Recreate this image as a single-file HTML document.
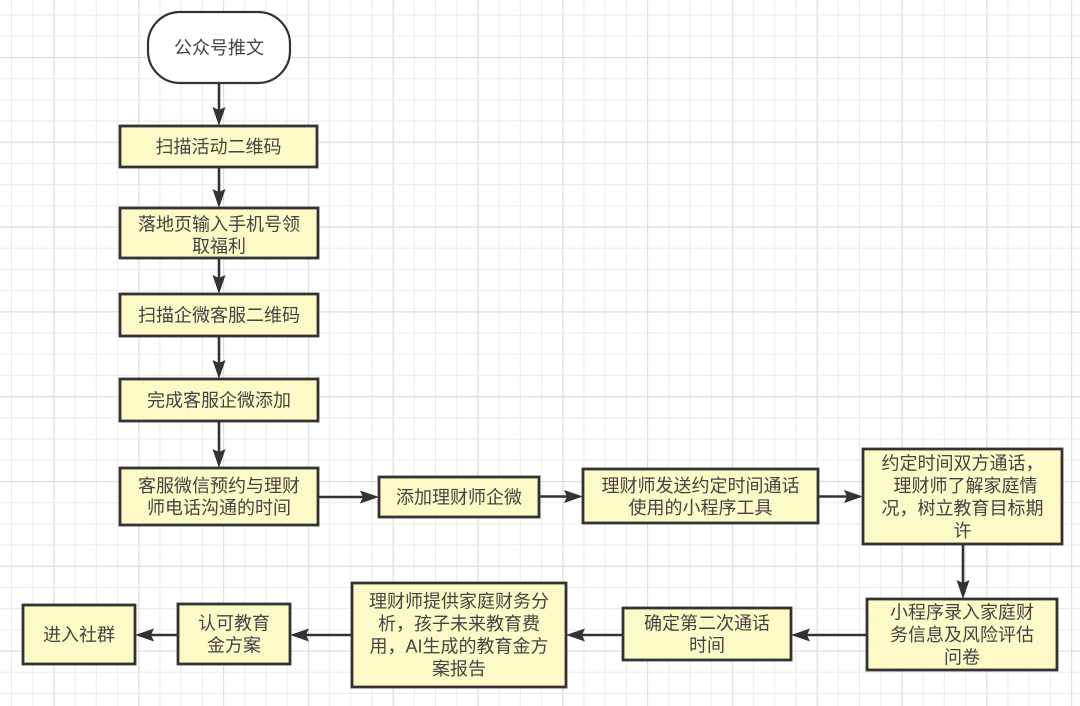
<!DOCTYPE html>
<html>
<head>
<meta charset="utf-8">
<style>
html,body{margin:0;padding:0;background:#fff;}
svg{display:block;}
text{font-family:"Liberation Sans","Noto Sans CJK SC",sans-serif;font-size:18px;fill:#444;text-anchor:middle;}
</style>
</head>
<body>
<svg width="1080" height="706" viewBox="0 0 1080 706" xmlns="http://www.w3.org/2000/svg">
<defs>
<pattern id="g" x="11" y="14.5" width="84.8" height="84.8" patternUnits="userSpaceOnUse">
<rect x="0" y="0" width="1" height="84.8" fill="#ebebeb"/>
<rect x="21.2" y="0" width="1" height="84.8" fill="#ebebeb"/>
<rect x="42.4" y="0" width="1.2" height="84.8" fill="#dddddd"/>
<rect x="63.6" y="0" width="1" height="84.8" fill="#ebebeb"/>
<rect x="0" y="0" width="84.8" height="1" fill="#ebebeb"/>
<rect x="0" y="21.2" width="84.8" height="1" fill="#ebebeb"/>
<rect x="0" y="42.4" width="84.8" height="1.2" fill="#dddddd"/>
<rect x="0" y="63.6" width="84.8" height="1" fill="#ebebeb"/>
</pattern>
</defs>
<rect x="0" y="0" width="1080" height="706" fill="#fff"/>
<rect x="0" y="0" width="1080" height="706" fill="url(#g)"/>

<g stroke="#333" stroke-width="2.6">
<line x1="219" y1="83" x2="219" y2="110"/>
<line x1="219" y1="167" x2="219" y2="192"/>
<line x1="219" y1="258" x2="219" y2="278"/>
<line x1="219" y1="336" x2="219" y2="363"/>
<line x1="219" y1="421" x2="219" y2="452"/>
<line x1="963" y1="544" x2="963" y2="583"/>
<line x1="318" y1="497" x2="363" y2="497"/>
<line x1="539" y1="496.5" x2="567" y2="496.5"/>
<line x1="818" y1="496.5" x2="847" y2="496.5"/>
<line x1="867" y1="635" x2="807" y2="635"/>
<line x1="623" y1="635" x2="582" y2="635"/>
<line x1="352" y1="635" x2="306" y2="635"/>
<line x1="178" y1="635" x2="151" y2="635"/>
</g>

<g fill="#333">
<path d="M219 126 L212.5 107 L219 110 L225.5 107 Z"/>
<path d="M219 208 L212.5 189 L219 192 L225.5 189 Z"/>
<path d="M219 294 L212.5 275 L219 278 L225.5 275 Z"/>
<path d="M219 379 L212.5 360 L219 363 L225.5 360 Z"/>
<path d="M219 468 L212.5 449 L219 452 L225.5 449 Z"/>
<path d="M963 599 L956.5 580 L963 583 L969.5 580 Z"/>
<path d="M379 497 L360 490.5 L363 497 L360 503.5 Z"/>
<path d="M583 496.5 L564 490 L567 496.5 L564 503 Z"/>
<path d="M863 496.5 L844 490 L847 496.5 L844 503 Z"/>
<path d="M791 635 L810 628.5 L807 635 L810 641.5 Z"/>
<path d="M566 635 L585 628.5 L582 635 L585 641.5 Z"/>
<path d="M290 635 L309 628.5 L306 635 L309 641.5 Z"/>
<path d="M135 635 L154 628.5 L151 635 L154 641.5 Z"/>
</g>

<g stroke="#333" stroke-width="2.8">
<rect x="148" y="12" width="142" height="71" rx="32" ry="32" fill="#fff" stroke-width="2.2"/>
<g fill="#fcfac6">
<rect x="120" y="126" width="197" height="41"/>
<rect x="120" y="208" width="198" height="50"/>
<rect x="120" y="294" width="198" height="42"/>
<rect x="120" y="379" width="198" height="42"/>
<rect x="120" y="468" width="198" height="57"/>
<rect x="379" y="477" width="160" height="40"/>
<rect x="583" y="469" width="235" height="54"/>
<rect x="863" y="449" width="199" height="95"/>
<rect x="867" y="599" width="190" height="71"/>
<rect x="623" y="608" width="168" height="52"/>
<rect x="352" y="583" width="214" height="104"/>
<rect x="178" y="604" width="112" height="60"/>
<rect x="23" y="605" width="112" height="59"/>
</g>
</g>

<text x="219" y="54">公众号推文</text>
<text x="218.5" y="153">扫描活动二维码</text>
<text x="219" y="230.5">落地页输入手机号领</text>
<text x="219" y="252.5">取福利</text>
<text x="219" y="321.5">扫描企微客服二维码</text>
<text x="219" y="406.5">完成客服企微添加</text>
<text x="219" y="492">客服微信预约与理财</text>
<text x="219" y="514">师电话沟通的时间</text>
<text x="459" y="503.5">添加理财师企微</text>
<text x="700.5" y="492">理财师发送约定时间通话</text>
<text x="700.5" y="514">使用的小程序工具</text>
<text x="962.5" y="469.5">约定时间双方通话，</text>
<text x="965.5" y="492">理财师了解家庭情</text>
<text x="962.5" y="514.5">况，树立教育目标期</text>
<text x="962.5" y="537">许</text>
<text x="962" y="618.5">小程序录入家庭财</text>
<text x="962" y="641">务信息及风险评估</text>
<text x="962" y="663.5">问卷</text>
<text x="707" y="629.5">确定第二次通话</text>
<text x="707" y="651.5">时间</text>
<text x="459" y="607.5">理财师提供家庭财务分</text>
<text x="459" y="630">析，孩子未来教育费</text>
<text x="459" y="652.5">用，AI生成的教育金方</text>
<text x="459" y="675">案报告</text>
<text x="234" y="629.5">认可教育</text>
<text x="234" y="651.5">金方案</text>
<text x="79" y="641">进入社群</text>
</svg>
</body>
</html>
